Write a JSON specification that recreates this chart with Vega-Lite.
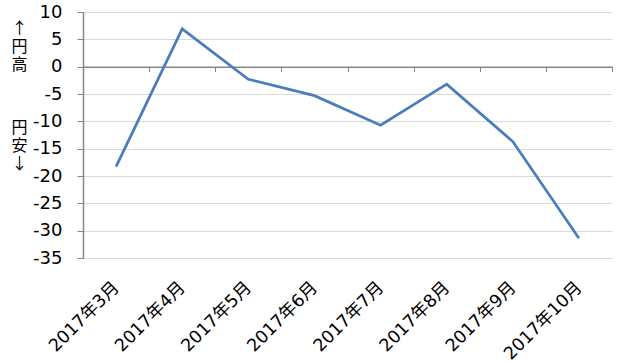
{
  "$schema": "https://vega.github.io/schema/vega-lite/v6.json",
  "autosize": "none",
  "padding": {"left": 83, "top": 12, "right": 10, "bottom": 106},
  "width": 529,
  "height": 246,
  "background": "white",
  "config": {"view": {"stroke": null}},
  "data": {
    "values": [
      {"month": "2017年3月", "value": -18.3},
      {"month": "2017年4月", "value": 6.9},
      {"month": "2017年5月", "value": -2.3},
      {"month": "2017年6月", "value": -5.3},
      {"month": "2017年7月", "value": -10.7},
      {"month": "2017年8月", "value": -3.2},
      {"month": "2017年9月", "value": -13.7},
      {"month": "2017年10月", "value": -31.4}
    ]
  },
  "mark": {"type": "line", "color": "#4a7ebb", "strokeWidth": 2.75},
  "encoding": {
    "x": {
      "field": "month",
      "type": "nominal",
      "sort": null,
      "scale": {"paddingInner": 0, "paddingOuter": 0},
      "axis": {
        "title": ["円", "安", "↓"],
        "titleAngle": 0,
        "titleAlign": "center",
        "titleBaseline": "top",
        "titleX": -64,
        "titleY": 53,
        "titleLineHeight": 18,
        "titleFont": "Noto Sans CJK JP",
        "titleFontSize": 16,
        "titleFontWeight": "normal",
        "titleColor": "#000000",
        "offset": -191.33,
        "domainColor": "#868686",
        "domainWidth": 1.5,
        "tickColor": "#868686",
        "tickSize": 5,
        "tickBand": "extent",
        "grid": false,
        "labelAngle": -45,
        "labelAlign": "right",
        "labelBaseline": "middle",
        "labelPadding": 213,
        "labelFont": "DejaVu Sans, Noto Sans CJK JP",
        "labelFontSize": 17.5,
        "labelColor": "#000000",
        "labelOverlap": false
      }
    },
    "y": {
      "field": "value",
      "type": "quantitative",
      "scale": {"domain": [-35, 10], "nice": false, "zero": false},
      "axis": {
        "values": [-35, -30, -25, -20, -15, -10, -5, 0, 5, 10],
        "labelExpr": "'' + datum.value",
        "domainColor": "#868686",
        "domainWidth": 1.5,
        "tickColor": "#868686",
        "tickSize": 6,
        "gridColor": "#d9d9d9",
        "gridWidth": 1,
        "labelPadding": 15,
        "labelFont": "DejaVu Sans",
        "labelFontSize": 18,
        "labelColor": "#000000",
        "title": ["↑", "円", "高"],
        "titleAngle": 0,
        "titleAlign": "center",
        "titleBaseline": "top",
        "titleX": -64,
        "titleY": 8.5,
        "titleLineHeight": 18,
        "titleFont": "Noto Sans CJK JP",
        "titleFontSize": 16,
        "titleFontWeight": "normal",
        "titleColor": "#000000"
      }
    }
  }
}
